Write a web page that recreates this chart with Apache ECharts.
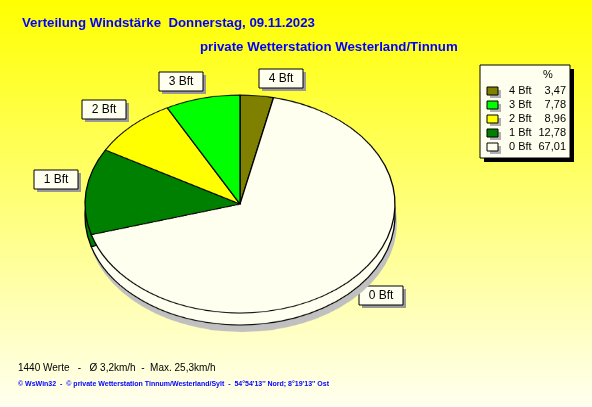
<!DOCTYPE html>
<html>
<head>
<meta charset="utf-8">
<script src="https://cdn.jsdelivr.net/npm/echarts@6/dist/echarts.min.js"></script>
<style>
html,body{margin:0;padding:0;width:592px;height:407px;overflow:hidden;}
#main{position:absolute;left:0;top:0;width:592px;height:407px;}
#pie{position:absolute;left:0;top:0;width:592px;height:579px;transform:scaleY(0.70323);transform-origin:0 0;}
</style>
</head>
<body>
<div id="main"></div>
<div id="pie"></div>
<script>
// ---- data ----
var categories = ['4 Bft', '3 Bft', '2 Bft', '1 Bft', '0 Bft'];
var values = [3.47, 7.78, 8.96, 12.78, 67.01];
var colors = ['#808000', '#00ff00', '#ffff00', '#008000', '#fffff0'];
var drawOrder = [0, 4, 3, 2, 1]; // clockwise from 12 o'clock
var titleText = 'Verteilung Windstärke  Donnerstag, 09.11.2023';
var subtitleText = 'private Wetterstation Westerland/Tinnum';
var statsText = '1440 Werte   -   Ø 3,2km/h  -  Max. 25,3km/h';
var footerText = '© WsWin32  -  © private Wetterstation Tinnum/Westerland/Sylt  -  54°54\'13\'\' Nord; 8°19\'13\'\' Ost';
var labelPos = {'4 Bft': [259, 69], '3 Bft': [159, 72], '2 Bft': [82, 100], '1 Bft': [34, 170], '0 Bft': [359, 286]};

var FONT = '"Liberation Sans", Arial, sans-serif';
var S = 0.70323;
var cx = 240, cy = 204, depth = 12;

// ---- pie (scaled vertically to an ellipse) ----
var pieData = drawOrder.map(function (i) {
  return {name: categories[i], value: values[i], itemStyle: {color: colors[i]}};
});
var pieChart = echarts.init(document.getElementById('pie'), null, {renderer: 'canvas'});
var base = {
  type: 'pie', radius: [0, 155], startAngle: 90, clockwise: true,
  silent: true, animation: false, label: {show: false}, labelLine: {show: false},
  emphasis: {disabled: true}
};
pieChart.setOption({
  backgroundColor: 'transparent',
  series: [
    Object.assign({}, base, {
      z: 1, center: [242, (cy + 19) / S],
      data: [{name: 'shadow', value: 1, itemStyle: {color: '#c0c0c0', borderWidth: 0}}]
    }),
    Object.assign({}, base, {
      z: 2, center: [cx, (cy + depth) / S],
      itemStyle: {borderColor: '#000', borderWidth: 1.3},
      data: pieData
    }),
    Object.assign({}, base, {
      z: 3, center: [cx, cy / S],
      itemStyle: {borderColor: '#000', borderWidth: 1.3},
      data: pieData
    })
  ]
});

// ---- background, titles, legend, labels ----
var g = [];
g.push({type: 'text', left: 22, top: 17, style: {text: titleText, fill: '#0000ff', font: 'bold 13.25px ' + FONT}});
g.push({type: 'text', left: 200, top: 41, style: {text: subtitleText, fill: '#0000ff', font: 'bold 13.25px ' + FONT}});
g.push({type: 'text', left: 18, top: 363, style: {text: statsText, fill: '#000', font: '10px ' + FONT}});
g.push({type: 'text', left: 18, top: 381, style: {text: footerText, fill: '#0000ff', font: 'bold 7px ' + FONT}});

// legend box
var lx = 480, ly = 65, lw = 90, lh = 93;
g.push({type: 'rect', shape: {x: lx + 4, y: ly + 4, width: lw, height: lh}, style: {fill: '#000'}});
g.push({type: 'rect', shape: {x: lx, y: ly, width: lw, height: lh}, style: {fill: '#fffff0', stroke: '#000', lineWidth: 1}});
g.push({type: 'text', x: 548, y: 75, style: {text: '%', fill: '#000', font: '11px ' + FONT, align: 'center', verticalAlign: 'middle'}});
categories.forEach(function (c, i) {
  var ry = 91 + i * 14;
  g.push({type: 'rect', shape: {x: 490, y: ry - 1, width: 11, height: 8}, style: {fill: '#b0b0b0'}});
  g.push({type: 'rect', shape: {x: 487, y: ry - 4, width: 11, height: 8}, style: {fill: colors[i], stroke: '#000', lineWidth: 1}});
  g.push({type: 'text', x: 509, y: ry, style: {text: c, fill: '#000', font: '11px ' + FONT, verticalAlign: 'middle'}});
  g.push({type: 'text', x: 566, y: ry, style: {text: values[i].toFixed(2).replace('.', ','), fill: '#000', font: '11px ' + FONT, align: 'right', verticalAlign: 'middle'}});
});

// slice label boxes
categories.forEach(function (c) {
  var p = labelPos[c];
  g.push({type: 'rect', shape: {x: p[0] + 3, y: p[1] + 3, width: 44, height: 19}, style: {fill: '#999'}});
  g.push({type: 'rect', shape: {x: p[0], y: p[1], width: 44, height: 19}, style: {fill: '#fffff0', stroke: '#000', lineWidth: 1}});
  g.push({type: 'text', x: p[0] + 22, y: p[1] + 10, style: {text: c, fill: '#000', font: '12px ' + FONT, align: 'center', verticalAlign: 'middle'}});
});

var main = echarts.init(document.getElementById('main'), null, {renderer: 'canvas'});
main.setOption({
  animation: false,
  backgroundColor: new echarts.graphic.LinearGradient(0, 0, 0, 1, [
    {offset: 0, color: '#ffff00'}, {offset: 1, color: '#fffff0'}
  ]),
  graphic: g
});
</script>
</body>
</html>
